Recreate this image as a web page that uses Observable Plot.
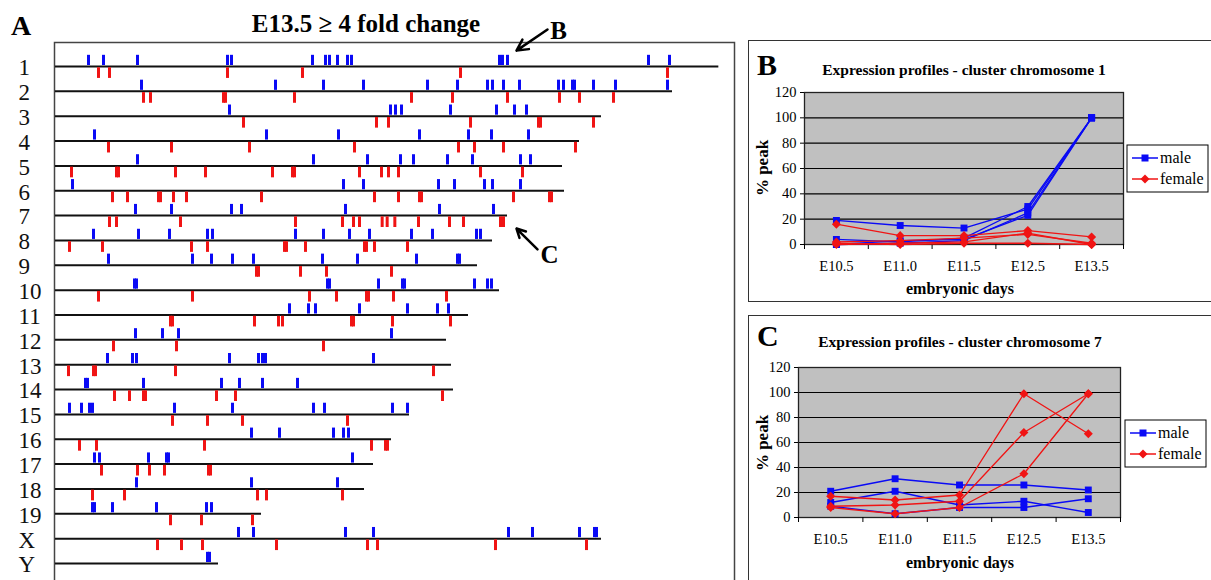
<!DOCTYPE html>
<html><head><meta charset="utf-8">
<script src="https://cdn.jsdelivr.net/npm/d3@7"></script>
<script src="https://cdn.jsdelivr.net/npm/@observablehq/plot@0.6"></script>
<style>
html,body{margin:0;padding:0;background:#fff;overflow:hidden;}
#root{position:relative;width:1211px;height:580px;overflow:hidden;font-family:"Liberation Serif","DejaVu Serif",serif;}
.panel{position:absolute;overflow:visible;}
.box{position:absolute;outline:1.5px solid #333;outline-offset:-1.5px;}
svg{max-width:none !important;}
svg text{font-family:"Liberation Serif","DejaVu Serif",serif;}
</style></head><body><div id="root"></div>
<script>
// ---------- Panel A data: chromosome map (positions in Mb) ----------
const chromosomes = ["1","2","3","4","5","6","7","8","9","10","11","12","13","14","15","16","17","18","19","X","Y"];
const chromLengths = [199.0,185.1,163.8,157.2,152.1,152.7,135.6,131.1,126.6,133.2,123.9,117.3,118.8,119.4,106.2,100.8,95.4,92.7,61.8,163.8,48.9];
const blueGenes = [
  [9.9,14.4,24.6,51.6,52.8,77.1,81.0,82.2,84.6,87.6,88.8,133.2,134.1,135.6,177.9,184.2],
  [25.8,66.0,80.4,92.4,111.6,120.6,129.6,131.1,134.4,139.2,150.9,152.4,155.1,155.7,161.4,168.0,183.6],
  [52.2,100.5,102.0,103.8,118.5,132.3,137.7,141.3],
  [11.7,63.3,84.9,109.2,123.9,130.8,141.9],
  [24.6,77.4,93.6,103.5,107.4,117.6,125.1,139.5,142.5],
  [5.1,86.4,92.4,114.9,119.7,128.7,131.1,139.5],
  [24.0,34.8,52.8,55.8,87.0,115.2,131.4],
  [11.4,24.9,34.2,45.6,47.1,72.0,80.4,88.2,94.2,106.8,113.1,126.3,127.5],
  [15.9,41.1,46.8,53.1,59.4,80.1,90.6,108.3,120.6,121.2],
  [23.7,24.3,81.6,82.2,96.9,104.1,104.7,125.7,129.6,130.8],
  [70.2,75.9,78.0,91.2,105.6,114.6,117.9],
  [24.0,32.1,36.9,100.8],
  [15.6,23.1,24.3,52.2,60.9,62.1,63.0,95.4],
  [9.0,9.6,26.4,49.8,55.2,62.1,72.6],
  [4.2,7.8,10.2,11.1,35.7,53.1,77.4,80.7,101.1,105.6],
  [58.8,67.2,83.4,86.4,87.9],
  [11.7,13.2,27.9,33.3,33.9,89.1],
  [24.3,58.8,84.6],
  [11.1,11.7,17.1,30.3,45.3,46.8],
  [54.9,59.4,87.0,95.4,135.9,143.1,157.2,161.7,162.3],
  [45.6,46.2]
];
const redGenes = [
  [12.9,16.2,51.6,74.1,121.5,183.6],
  [26.4,28.5,50.4,51.0,71.7,106.8,119.1,135.6,151.2,157.2,167.4],
  [56.4,96.3,99.9,124.5,144.9,145.5,161.4],
  [15.9,34.8,58.2,89.7,120.9,125.7,134.4,156.0],
  [4.8,18.3,18.9,36.0,45.0,65.1,71.1,71.7,91.2,97.8,99.9,102.9,127.5,140.1],
  [17.1,21.6,30.9,31.5,35.4,39.3,61.8,95.7,102.9,109.2,109.8,137.4,148.2,148.8],
  [16.2,18.3,37.5,72.0,86.1,89.4,91.2,98.0,99.5,101.8,108.9,118.2,122.4,133.5,134.4],
  [4.2,14.1,40.8,45.6,68.7,69.3,75.0,92.7,93.3,95.7,105.6],
  [60.3,60.9,73.5,81.3,100.8],
  [12.9,41.1,76.2,84.3,93.3,93.9,101.4,117.3],
  [34.5,35.1,59.7,66.9,68.1,88.8,89.4,101.1,118.5],
  [17.4,36.3,80.4],
  [3.9,11.4,12.0,36.0,113.4],
  [17.7,22.2,26.4,27.0,48.3,54.0,116.1],
  [35.1,45.6,56.1,87.6],
  [7.2,12.3,44.7,94.8,99.0,99.6],
  [13.8,24.6,28.2,32.7,45.9,46.5],
  [11.1,20.7,60.6,63.3,86.1],
  [34.5,43.8,59.1],
  [30.6,37.8,44.1,66.3,93.6,96.6,132.0,159.3],
  []
];
// arrows pointing to the clusters shown in B and C (Mb, chromosome row)
const arrowLabels = ["B","C"];
const arrowFromX = [147.6,144.6], arrowFromY = [-1.49,7.36];
const arrowToX = [138.3,138.3], arrowToY = [-0.64,6.52];
const labelX = [148.4,145.5], labelY = [-1.41,7.57];

// ---------- Panels B and C data: % peak expression ----------
const days = ["E10.5","E11.0","E11.5","E12.5","E13.5"];
const chr1Male = [[19,15,13,28,100],[4,2,5,30,100],[0,1,3,25,100],[0,3,4,23,100]];
const chr1Female = [[16,7,7,11,6],[2,3,5,8,1],[0,1,2,9,0],[1,0,1,1,0]];
const chr7Male = [[21,31,26,26,22],[12,21,10,13,4],[9,3,8,8,15]];
const chr7Female = [[17,14,18,99,67],[9,10,13,68,99],[8,3,8,35,99]];

const BLUE = "#0a0af5", RED = "#f01414";
const SERIF = "Liberation Serif, DejaVu Serif, serif";
const root = document.getElementById("root");

function addText(svg, x, y, str, o = {}) {
  const t = d3.select(svg).append("text")
    .attr("x", x).attr("y", y)
    .attr("font-family", SERIF)
    .attr("font-size", o.size || 14)
    .attr("font-weight", o.weight || "normal")
    .attr("text-anchor", o.anchor || "start")
    .attr("fill", "#000")
    .text(str);
  if (o.rotate) t.attr("transform", `rotate(${o.rotate},${x},${y})`);
  return t;
}

// ---------- Panel A ----------
const idx = chromosomes.map((c, i) => i);
const chromRows = chromosomes.map((c, i) => ({i, len: chromLengths[i]}));
const blueRows = blueGenes.flatMap((a, i) => a.map(p => ({i, p})));
const redRows = redGenes.flatMap((a, i) => a.map(p => ({i, p})));
const arrows = arrowLabels.map((l, k) => ({l, x1: arrowFromX[k], y1: arrowFromY[k], x2: arrowToX[k], y2: arrowToY[k], lx: labelX[k], ly: labelY[k]}));

const plotA = Plot.plot({
  width: 736, height: 584,
  marginLeft: 54, marginRight: 2, marginTop: 42, marginBottom: 0,
  x: {domain: [0, 200], range: [55, 55 + 200 / 0.3], axis: null, label: null},
  y: {domain: [0, 20], range: [66, 563], label: null},
  style: {background: "transparent", fontFamily: SERIF, color: "#000", overflow: "visible"},
  marks: [
    Plot.frame({stroke: "#444", strokeWidth: 1.5}),
    Plot.ruleY(chromRows, {y: "i", x1: 0, x2: "len", stroke: "#111", strokeWidth: 2}),
    Plot.ruleX(blueRows, {x: "p", y1: d => d.i - 0.45, y2: d => d.i - 0.04, stroke: BLUE, strokeWidth: 3}),
    Plot.ruleX(redRows, {x: "p", y1: d => d.i + 0.05, y2: d => d.i + 0.48, stroke: RED, strokeWidth: 3}),
    Plot.axisY({ticks: idx, tickFormat: i => chromosomes[i], tickSize: 0, tickPadding: 0, textAnchor: "start", dx: -36, dy: 1.5, fontSize: 23, fontFamily: SERIF, fill: "#111"}),
    Plot.arrow(arrows, {x1: "x1", y1: "y1", x2: "x2", y2: "y2", stroke: "#000", strokeWidth: 2.5, headLength: 12, headAngle: 55}),
    Plot.text(arrows, {x: "lx", y: "ly", text: "l", textAnchor: "start", fontSize: 25, fontWeight: "bold", fontFamily: SERIF, fill: "#000"})
  ]
});
const divA = document.createElement("div");
divA.className = "panel"; divA.style.left = "0px"; divA.style.top = "0px";
divA.appendChild(plotA); root.appendChild(divA);
addText(plotA, 11, 35, "A", {size: 28, weight: "bold"});
addText(plotA, 366, 32, "E13.5 \u2265 4 fold change", {size: 25, weight: "bold", anchor: "middle"});

// ---------- Panels B and C ----------
function profile(male, female, cfg) {
  const mRows = male.flatMap((s, k) => s.map((v, j) => ({k, x: j + 0.5, v})));
  const fRows = female.flatMap((s, k) => s.map((v, j) => ({k, x: j + 0.5, v})));
  const svg = Plot.plot({
    width: cfg.w, height: cfg.h,
    marginLeft: cfg.left, marginRight: cfg.w - cfg.right, marginTop: cfg.top, marginBottom: cfg.h - cfg.bottom,
    x: {domain: [0, days.length], label: null},
    y: {domain: [0, 120], label: null},
    style: {background: "transparent", fontFamily: SERIF, color: "#000", overflow: "visible"},
    marks: [
      Plot.frame({fill: "#c0c0c0"}),
      Plot.gridY({ticks: [20, 40, 60, 80, 100], stroke: "#000", strokeOpacity: 1, strokeWidth: 1.2}),
      Plot.frame({stroke: "#222", strokeWidth: 1.3}),
      Plot.axisY({ticks: [0, 20, 40, 60, 80, 100, 120], tickSize: 4, tickPadding: 4, fontSize: 14.5, fontFamily: SERIF}),
      Plot.axisX({ticks: d3.range(days.length + 1), tickFormat: () => "", tickSize: 5}),
      Plot.axisX({ticks: days.map((d, j) => j + 0.5), tickFormat: t => days[Math.floor(t)], tickSize: 0, tickPadding: 16, fontSize: 14.5, fontFamily: SERIF}),
      Plot.line(mRows, {x: "x", y: "v", z: "k", stroke: BLUE, strokeWidth: 1.3}),
      Plot.dot(mRows, {x: "x", y: "v", symbol: "square", r: 3.9, fill: BLUE}),
      Plot.line(fRows, {x: "x", y: "v", z: "k", stroke: RED, strokeWidth: 1.3}),
      Plot.dot(fRows, {x: "x", y: "v", symbol: "square", rotate: 45, r: 3.6, fill: RED})
    ]
  });
  const box = document.createElement("div");
  box.className = "box";
  box.style.left = cfg.x + "px"; box.style.top = cfg.y + "px";
  box.style.width = (cfg.w + 10) + "px"; box.style.height = cfg.boxH + "px";
  root.appendChild(box);
  const div = document.createElement("div");
  div.className = "panel"; div.style.left = cfg.x + "px"; div.style.top = cfg.y + "px";
  div.appendChild(svg); root.appendChild(div);
  addText(svg, 9, cfg.letterY, cfg.letter, {size: 30, weight: "bold"});
  addText(svg, cfg.titleX, cfg.titleY, cfg.title, {size: 15.5, weight: "bold", anchor: "middle"});
  addText(svg, 20, 128, "% peak", {size: 17, weight: "bold", anchor: "middle", rotate: -90});
  addText(svg, 212, cfg.xlabY, "embryonic days", {size: 16, weight: "bold", anchor: "middle"});
  // legend
  const g = d3.select(svg).append("g");
  g.append("rect").attr("x", cfg.legX).attr("y", 105).attr("width", 81).attr("height", 47)
    .attr("fill", "#fff").attr("stroke", "#000").attr("stroke-width", 1);
  const entries = [["male", BLUE, 118, false], ["female", RED, 139, true]];
  for (const [name, col, yy, dia] of entries) {
    g.append("line").attr("x1", cfg.legX + 5).attr("x2", cfg.legX + 31).attr("y1", yy).attr("y2", yy)
      .attr("stroke", col).attr("stroke-width", 1.5);
    if (dia) g.append("rect").attr("x", cfg.legX + 18 - 3.2).attr("y", yy - 3.2).attr("width", 6.4).attr("height", 6.4)
      .attr("fill", col).attr("transform", `rotate(45,${cfg.legX + 18},${yy})`);
    else g.append("rect").attr("x", cfg.legX + 18 - 3.5).attr("y", yy - 3.5).attr("width", 7).attr("height", 7).attr("fill", col);
    addText(svg, cfg.legX + 33, yy + 5, name, {size: 16});
  }
}

profile(chr1Male, chr1Female, {
  x: 748, y: 40, w: 463, h: 262, boxH: 262, left: 56, right: 375, top: 52, bottom: 204,
  letter: "B", letterY: 35, title: "Expression profiles - cluster chromosome 1", titleX: 216, titleY: 35, xlabY: 254, legX: 379
});
profile(chr7Male, chr7Female, {
  x: 748, y: 315, w: 463, h: 270, boxH: 280, left: 50, right: 372, top: 52, bottom: 202,
  letter: "C", letterY: 31, title: "Expression profiles - cluster chromosome 7", titleX: 212, titleY: 32, xlabY: 253, legX: 377
});
</script></body></html>
